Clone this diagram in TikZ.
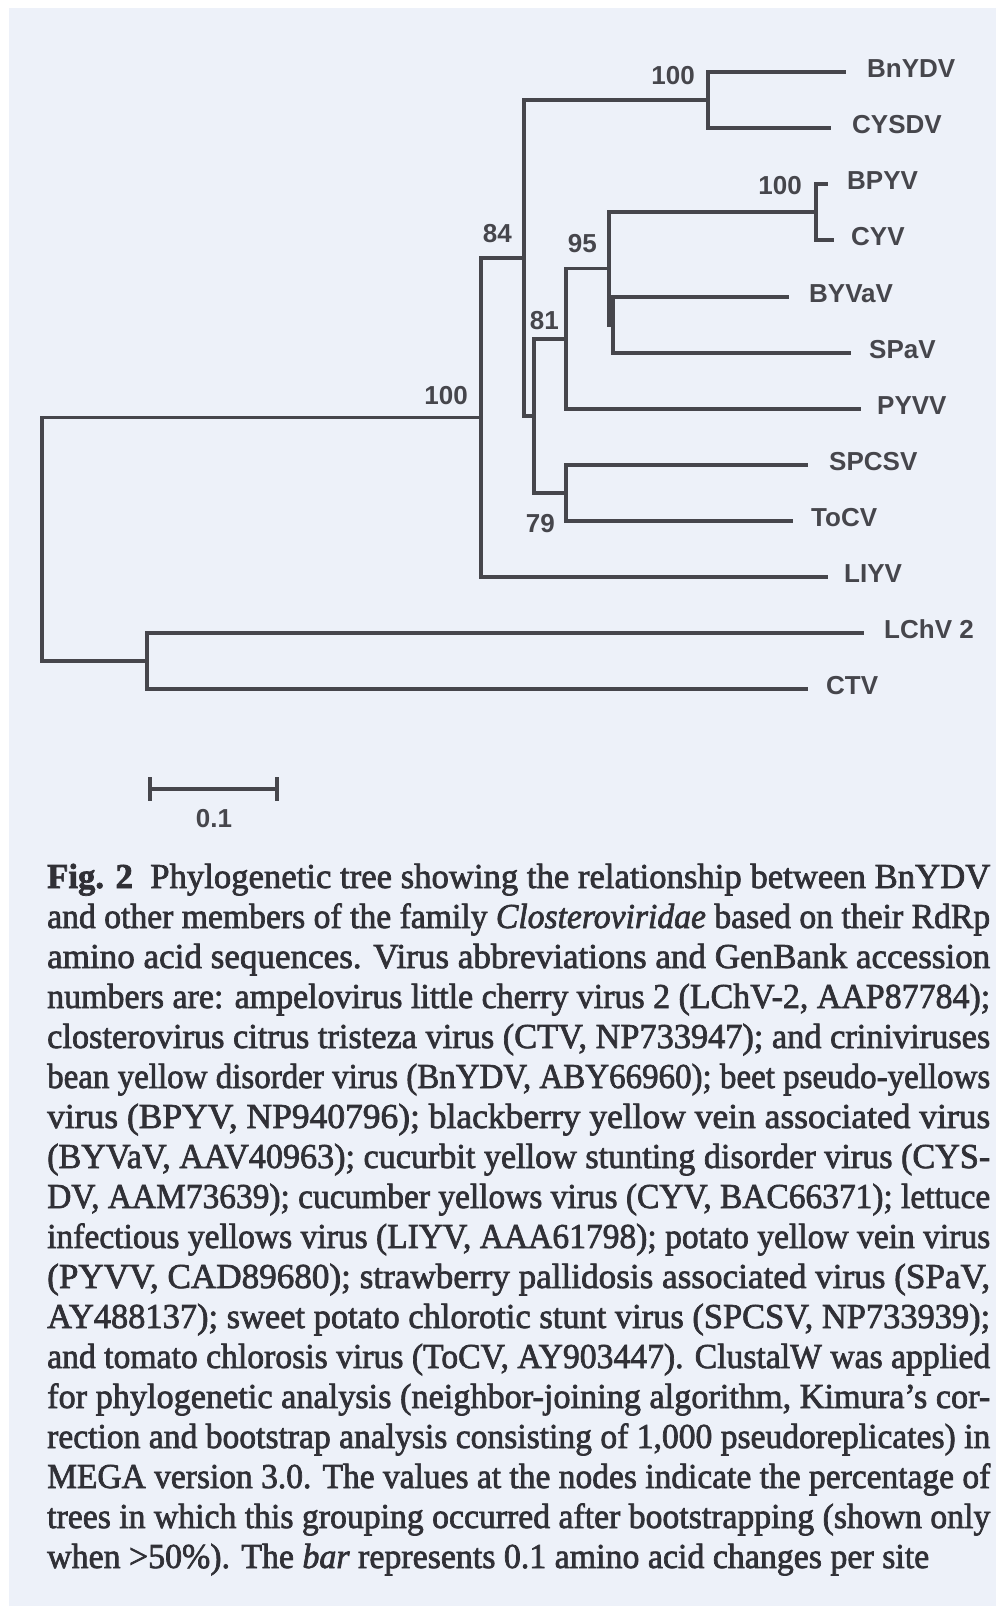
\documentclass[tikz,border=0pt]{standalone}
\usepackage{fontspec}
\usepackage{graphicx}
\setmainfont[FakeBold=2]{Liberation Serif}
\newfontfamily\treefont{Liberation Sans}
\definecolor{bgblue}{RGB}{237,241,249}
\definecolor{ink}{RGB}{70,70,76}
\definecolor{capink}{RGB}{48,48,54}
\newcommand{\capline}[2][943pt]{\resizebox{#1}{\height}{#2}}
\tikzset{
  branch/.style={draw=ink, line width=3.4pt},
  leaf/.style={anchor=base west, inner sep=0pt, text=ink, font=\treefont\bfseries\fontsize{26}{28}\selectfont},
  boot/.style={anchor=base east, inner sep=0pt, text=ink, font=\treefont\bfseries\fontsize{26}{28}\selectfont},
  capl/.style={anchor=base west, inner sep=0pt, text=capink, font=\fontsize{35}{40}\selectfont}
}
\begin{document}
\begin{tikzpicture}[x=1pt, y=-1pt]
\useasboundingbox (0,0) rectangle (996,1606);
\fill[white] (0,0) rectangle (996,1606);
\fill[bgblue] (9,8) rectangle (996,1606);
% tips
\coordinate (tBnYDV) at (846,72);
\coordinate (tCYSDV) at (831,128);
\coordinate (tBPYV) at (828,184);
\coordinate (tCYV) at (834,240);
\coordinate (tBYVaV) at (789,297);
\coordinate (tSPaV) at (851,353);
\coordinate (tPYVV) at (861,409);
\coordinate (tSPCSV) at (808,465);
\coordinate (tToCV) at (793,521);
\coordinate (tLIYV) at (828,577);
\coordinate (tLChV) at (864,633);
\coordinate (tCTV) at (808,689);
% internal nodes
\coordinate (nBC) at (708,100);
\coordinate (nPC) at (816,212);
\coordinate (nBS) at (613,325);
\coordinate (n95) at (609,268.5);
\coordinate (n81) at (566,339);
\coordinate (n79) at (566,493);
\coordinate (nX) at (534,416);
\coordinate (n84) at (524,258);
\coordinate (n100) at (481,417.5);
\coordinate (nLC) at (147,661);
\coordinate (root) at (42,539);
% branches
\draw[branch] (root) |- (n100);
\draw[branch] (root) |- (nLC);
\draw[branch] (nLC) |- (tLChV);
\draw[branch] (nLC) |- (tCTV);
\draw[branch] (n100) |- (n84);
\draw[branch] (n100) |- (tLIYV);
\draw[branch] (n84) |- (nBC);
\draw[branch] (n84) |- (nX);
\draw[branch] (nBC) |- (tBnYDV);
\draw[branch] (nBC) |- (tCYSDV);
\draw[branch] (nX) |- (n81);
\draw[branch] (nX) |- (n79);
\draw[branch] (n81) |- (n95);
\draw[branch] (n81) |- (tPYVV);
\draw[branch] (n95) |- (nPC);
\draw[branch] (n95) |- (nBS);
\draw[branch] (nPC) |- (tBPYV);
\draw[branch] (nPC) |- (tCYV);
\draw[branch] (nBS) |- (tBYVaV);
\draw[branch] (nBS) |- (tSPaV);
\draw[branch] (n79) |- (tSPCSV);
\draw[branch] (n79) |- (tToCV);
% leaf labels
\node[leaf] (BnYDV) at ([xshift=21pt,yshift=-5pt]tBnYDV) {BnYDV};
\node[leaf] (CYSDV) at ([xshift=21pt,yshift=-5pt]tCYSDV) {CYSDV};
\node[leaf] (BPYV) at ([xshift=19pt,yshift=-5pt]tBPYV) {BPYV};
\node[leaf] (CYV) at ([xshift=17pt,yshift=-5pt]tCYV) {CYV};
\node[leaf] (BYVaV) at ([xshift=20pt,yshift=-5pt]tBYVaV) {BYVaV};
\node[leaf] (SPaV) at ([xshift=18pt,yshift=-5pt]tSPaV) {SPaV};
\node[leaf] (PYVV) at ([xshift=16pt,yshift=-5pt]tPYVV) {PYVV};
\node[leaf] (SPCSV) at ([xshift=21pt,yshift=-5pt]tSPCSV) {SPCSV};
\node[leaf] (ToCV) at ([xshift=18pt,yshift=-5pt]tToCV) {ToCV};
\node[leaf] (LIYV) at ([xshift=16pt,yshift=-5pt]tLIYV) {LIYV};
\node[leaf] (LChV) at ([xshift=20pt,yshift=-5pt]tLChV) {LChV 2};
\node[leaf] (CTV) at ([xshift=18pt,yshift=-5pt]tCTV) {CTV};
% bootstrap values
\node[boot] (bBC) at (695,84) {100};
\node[boot] (bPC) at (802,194) {100};
\node[boot] (b84) at (512,242) {84};
\node[boot] (b95) at (597,252) {95};
\node[boot] (b81) at (559,329) {81};
\node[boot] (b100) at (468,404) {100};
\node[boot] (b79) at (555,532) {79};
% scale bar
\coordinate (sbL) at (150,789);
\coordinate (sbR) at (277,789);
\draw[branch] (sbL) -- (sbR);
\draw[branch] ([yshift=12pt]sbL) -- ([yshift=-12pt]sbL);
\draw[branch] ([yshift=12pt]sbR) -- ([yshift=-12pt]sbR);
\node[anchor=base, inner sep=0pt, text=ink, font=\treefont\bfseries\fontsize{26}{28}\selectfont] (sblab) at (214,827) {0.1};
% caption
\node[capl] (c1) at (47,888.0) {\capline{\textbf{Fig. 2}\ \ Phylogenetic tree showing the relationship between BnYDV}};
\node[capl] (c2) at (47,928.0) {\capline{and other members of the family \textit{Closteroviridae} based on their RdRp}};
\node[capl] (c3) at (47,968.0) {\capline{amino acid sequences. Virus abbreviations and GenBank accession}};
\node[capl] (c4) at (47,1008.0) {\capline{numbers are: ampelovirus little cherry virus 2 (LChV-2, AAP87784);}};
\node[capl] (c5) at (47,1048.0) {\capline{closterovirus citrus tristeza virus (CTV, NP733947); and criniviruses}};
\node[capl] (c6) at (47,1088.0) {\capline{bean yellow disorder virus (BnYDV, ABY66960); beet pseudo-yellows}};
\node[capl] (c7) at (47,1128.0) {\capline{virus (BPYV, NP940796); blackberry yellow vein associated virus}};
\node[capl] (c8) at (47,1168.0) {\capline{(BYVaV, AAV40963); cucurbit yellow stunting disorder virus (CYS-}};
\node[capl] (c9) at (47,1208.0) {\capline{DV, AAM73639); cucumber yellows virus (CYV, BAC66371); lettuce}};
\node[capl] (c10) at (47,1248.0) {\capline{infectious yellows virus (LIYV, AAA61798); potato yellow vein virus}};
\node[capl] (c11) at (47,1288.0) {\capline{(PYVV, CAD89680); strawberry pallidosis associated virus (SPaV,}};
\node[capl] (c12) at (47,1328.0) {\capline{AY488137); sweet potato chlorotic stunt virus (SPCSV, NP733939);}};
\node[capl] (c13) at (47,1368.0) {\capline{and tomato chlorosis virus (ToCV, AY903447). ClustalW was applied}};
\node[capl] (c14) at (47,1408.0) {\capline{for phylogenetic analysis (neighbor-joining algorithm, Kimura's cor-}};
\node[capl] (c15) at (47,1448.0) {\capline{rection and bootstrap analysis consisting of 1,000 pseudoreplicates) in}};
\node[capl] (c16) at (47,1488.0) {\capline{MEGA version 3.0. The values at the nodes indicate the percentage of}};
\node[capl] (c17) at (47,1528.0) {\capline{trees in which this grouping occurred after bootstrapping (shown only}};
\node[capl] (c18) at (47,1568.0) {\capline[882pt]{when >50\%). The \textit{bar} represents 0.1 amino acid changes per site}};
\end{tikzpicture}
\end{document}
